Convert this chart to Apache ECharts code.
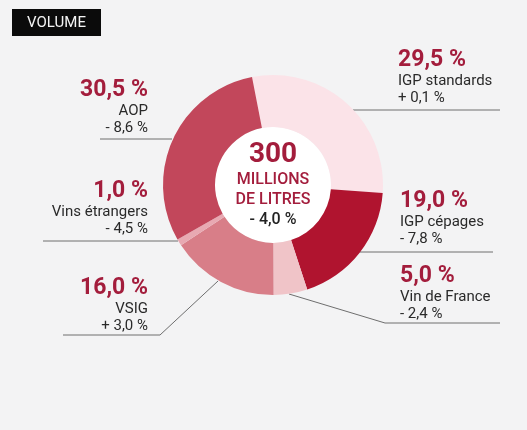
<!DOCTYPE html>
<html>
<head>
<meta charset="utf-8">
<script src="https://cdn.jsdelivr.net/npm/echarts@6/dist/echarts.min.js"></script>
<style>
html,body{margin:0;padding:0;background:#f3f3f4;}
#c{width:527px;height:430px;}
</style>
</head>
<body>
<div id="c"></div>
<script>
// Data
var categories = ['IGP standards', 'IGP cépages', 'Vin de France', 'VSIG', 'Vins étrangers', 'AOP'];
var shares = [29.5, 19.0, 5.0, 16.0, 1.0, 30.5];
var changes = ['+ 0,1 %', '- 7,8 %', '- 2,4 %', '+ 3,0 %', '- 4,5 %', '- 8,6 %'];
var totalValue = '300';
var totalUnit = ['MILLIONS', 'DE LITRES'];
var totalChange = '- 4,0 %';
var titleText = 'VOLUME';

// Styles / layout
var colors = ['#fbe3e8', '#b0142f', '#f0c4c8', '#d87e88', '#e8a9b2', '#c2475b'];
var labelLayouts = [
  {x: 398, y: 47, align: 'left', line: [[353, 110], [500, 110]]},
  {x: 400, y: 188, align: 'left', line: [[360, 252], [493, 252]]},
  {x: 400, y: 263, align: 'left', line: [[289, 294], [385, 323], [500, 323]]},
  {x: 148, y: 275, align: 'right', line: [[218, 281], [160, 335], [63, 335]]},
  {x: 148, y: 178, align: 'right', line: [[178, 241], [43, 241]]},
  {x: 148, y: 77, align: 'right', line: [[172, 139], [100, 139]]}
];
var CX = 273, CY = 185;

function fmt(v) { return v.toFixed(1).replace('.', ',') + ' %'; }

var data = categories.map(function (c, i) {
  return {name: c, value: shares[i], itemStyle: {color: colors[i]}};
});

var chart = echarts.init(document.getElementById('c'), null, {renderer: 'canvas'});
chart.setOption({
  backgroundColor: '#f3f3f4',
  animation: false,
  graphic: [
    {type: 'rect', shape: {x: 12, y: 9, width: 89, height: 27}, style: {fill: '#0b0b0b'}},
    {type: 'text', x: 56.5, y: 23, style: {text: titleText, fill: '#f4f4f4', font: 'normal 15px Roboto', align: 'center', verticalAlign: 'middle'}},
    {type: 'text', x: CX, y: 140, z: 100, style: {
      text: '{a|' + totalValue + '}\n{b|' + totalUnit[0] + '}\n{b|' + totalUnit[1] + '}\n{c|' + totalChange + '}',
      align: 'center', verticalAlign: 'top',
      rich: {
        a: {fontFamily: 'Roboto', fontSize: 28, fontWeight: 'bold', fill: '#a31d3c', lineHeight: 30, align: 'center'},
        b: {fontFamily: 'Roboto', fontSize: 16, fontWeight: 500, fill: '#a31d3c', lineHeight: 20, align: 'center'},
        c: {fontFamily: 'Roboto', fontSize: 16, fontWeight: 500, fill: '#222222', lineHeight: 20, align: 'center'}
      }
    }}
  ],
  series: [
    {
      type: 'pie',
      center: [CX, CY],
      radius: [0, 58],
      silent: true,
      label: {show: false},
      labelLine: {show: false},
      data: [{value: 1, itemStyle: {color: '#ffffff'}}],
      z: 1
    },
    {
      type: 'pie',
      center: [CX, CY],
      radius: [58, 110],
      startAngle: 101,
      clockwise: true,
      silent: true,
      emphasis: {scale: false},
      data: data,
      label: {
        show: true,
        position: 'outside',
        formatter: function (p) {
          return '{p|' + fmt(shares[p.dataIndex]) + '}\n{n|' + categories[p.dataIndex] + '}\n{c|' + changes[p.dataIndex] + '}';
        },
        rich: {
          p: {fontFamily: 'Roboto', fontSize: 23, fontWeight: 'bold', color: '#a31d3c', lineHeight: 26},
          n: {fontFamily: 'Roboto', fontSize: 15, color: '#2a2a2a', lineHeight: 17},
          c: {fontFamily: 'Roboto', fontSize: 15, color: '#2a2a2a', lineHeight: 17}
        }
      },
      labelLine: {show: true, lineStyle: {color: '#6e6e6e', width: 1}},
      labelLayout: function (params) {
        var L = labelLayouts[params.dataIndex];
        return {x: L.x, y: L.y, align: L.align, verticalAlign: 'top', labelLinePoints: L.line};
      },
      z: 2
    }
  ]
});
</script>
</body>
</html>
